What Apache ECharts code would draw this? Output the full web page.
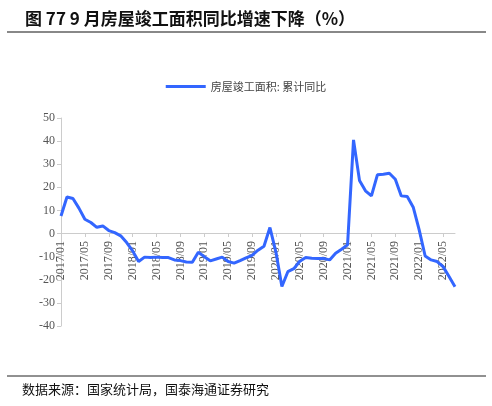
<!doctype html>
<html>
    <head>
        <meta charset="utf-8">
        <title>房屋竣工面积</title>
        <style>
            html, body { margin: 0; padding: 0; background: #fff; }
            #main { width: 492px; height: 406px; }
        </style>
    </head>
    <body>
        <div id="main"></div>
        <script src="https://cdn.jsdelivr.net/npm/echarts@6/dist/echarts.min.js"></script>
        <script>
            // 2017/01 .. 2022/07, monthly
            var months = [];
            for (var y = 2017; y <= 2022; y++) {
                for (var m = 1; m <= 12; m++) {
                    if (y === 2022 && m > 7) break;
                    months.push(y + '/' + (m < 10 ? '0' + m : m));
                }
            }

            var completedYoY = [
                7.6, 15.8, 15.2, 11, 6.2, 4.8, 2.7, 3.3, 1.3, 0.4, -1, -3.9,
                -7.5, -12.1, -10.2, -10.4, -10.2, -10.4, -10.4, -11.4, -11.7, -12.3, -12.4, -8.1,
                -10, -11.8, -11, -10.2, -12.1, -12.8, -11.7, -10.5, -9.4, -7.2, -5.5, 2.6,
                -8, -22.9, -16.5, -15.2, -12, -10.4, -10.7, -10.8, -10.8, -11.4, -8.5, -6.8,
                -4.9, 40.5, 23, 18.5, 16.3, 25.4, 25.7, 26.1, 23.5, 16.3, 16, 11.4,
                1.6, -9.7, -11.4, -12.1, -14.3, -18.6, -23
            ];

            var yTicks = { min: -40, max: 50, interval: 10 };

            var serif = '"Liberation Serif", "Times New Roman", serif';

            var chart = echarts.init(document.getElementById('main'));

            chart.setOption({
                animation: false,
                title: {
                    text: '图 77 9 月房屋竣工面积同比增速下降（%）',
                    left: 20,
                    top: 5,
                    textStyle: {
                        fontSize: 17,
                        fontWeight: 'bold',
                        color: '#111',
                        fontFamily: '"Noto Sans CJK SC", serif'
                    }
                },
                graphic: [
                    { type: 'line', shape: { x1: 7, y1: 32, x2: 486, y2: 32 }, style: { stroke: '#888', lineWidth: 2 } },
                    { type: 'line', shape: { x1: 7, y1: 376, x2: 486, y2: 376 }, style: { stroke: '#222', lineWidth: 1 } },
                    {
                        type: 'text', left: 22, top: 383,
                        style: { text: '数据来源：国家统计局，国泰海通证券研究', fontSize: 13, fill: '#111', fontFamily: '"Noto Sans CJK SC", serif' }
                    }
                ],
                legend: {
                    top: 76,
                    left: 'center',
                    itemWidth: 40,
                    itemHeight: 3,
                    icon: 'rect',
                    textStyle: { fontSize: 11, color: '#444', fontFamily: '"Noto Sans CJK SC", serif' }
                },
                grid: { left: 61, right: 37, top: 118, bottom: 80 },
                xAxis: {
                    type: 'category',
                    data: months,
                    boundaryGap: false,
                    offset: -93,
                    axisLine: { onZero: false, lineStyle: { color: '#ccc' } },
                    axisTick: { show: true, interval: 3, length: 4, lineStyle: { color: '#ccc' } },
                    axisLabel: {
                        interval: 3,
                        rotate: 90,
                        color: '#555',
                        fontSize: 12,
                        fontFamily: serif
                    },
                    splitLine: { show: false }
                },
                yAxis: {
                    type: 'value',
                    min: yTicks.min,
                    max: yTicks.max,
                    interval: yTicks.interval,
                    axisLine: { show: true, lineStyle: { color: '#ccc' } },
                    axisTick: { show: true, length: 4, lineStyle: { color: '#ccc' } },
                    axisLabel: { color: '#555', fontSize: 12, fontFamily: serif, margin: 6 },
                    splitLine: { show: false }
                },
                series: [{
                    name: '房屋竣工面积: 累计同比',
                    type: 'line',
                    data: completedYoY,
                    showSymbol: false,
                    lineStyle: { color: '#3366ff', width: 3 },
                    itemStyle: { color: '#3366ff' }
                }]
            });

            window.onresize = chart.resize;
        </script>
    </body>
</html>
